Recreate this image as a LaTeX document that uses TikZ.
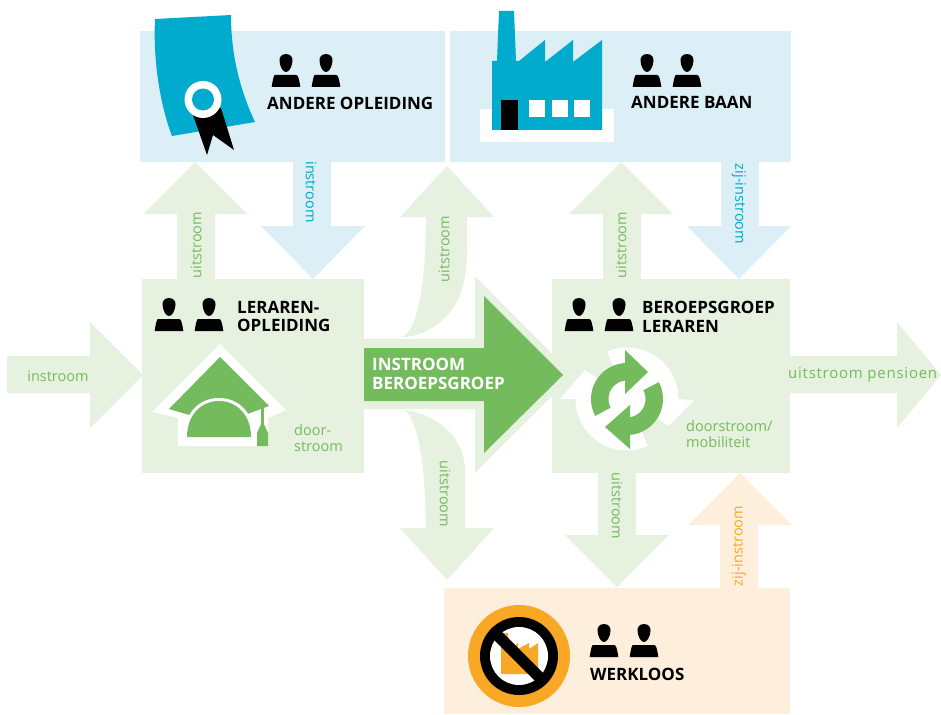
\documentclass[tikz,border=0pt]{standalone}
\usepackage{fontspec}
\setmainfont{Open Sans}
\definecolor{bluebg}{HTML}{DCEEF6}
\definecolor{greenbg}{HTML}{E6F1E0}
\definecolor{orangebg}{HTML}{FEEEDC}
\definecolor{cyanc}{HTML}{00ABCD}
\definecolor{greenc}{HTML}{74BB5D}
\definecolor{orangec}{HTML}{F8A824}
\tikzset{
  x=1pt,y=-1pt,
  boxtitle/.style={font=\bfseries\fontsize{17}{18.5}\selectfont,text=black,align=left,inner sep=0pt,anchor=north west},
  flow/.style={font=\fontsize{14.5}{16.5}\selectfont,text=greenc,inner sep=0pt,align=left},
  person/.pic={
    \fill[black] (0,-9) .. controls (5,-9) and (7,-5) .. (6.5,-2) .. controls (6,4) and (3,9) .. (0,9)
       .. controls (-3,9) and (-6,4) .. (-6.5,-2) .. controls (-7,-5) and (-5,-9) .. (0,-9) -- cycle;
    \fill[black] (-11,12) -- (10,12) .. controls (12,12) and (13,15) .. (14.3,24) -- (-14.3,24)
       .. controls (-13,15) and (-12,12) .. (-11,12) -- cycle;
  }
}
\begin{document}
\begin{tikzpicture}
\useasboundingbox (0,0) rectangle (941,714);
% panels
\fill[bluebg] (140,31) rectangle (445,162);
\fill[bluebg] (450,31) rectangle (791,162);
\fill[greenbg] (142,279) rectangle (364,473);
\fill[greenbg] (552,279) rectangle (790,473);
\fill[orangebg] (444,588) rectangle (790,714);
% straight flow arrows
\fill[greenbg] (7,356) -- (90,356) -- (90,322) -- (143,375) -- (90,428) -- (90,393) -- (7,393) -- cycle;
\fill[greenbg] (790,356) -- (897,356) -- (897,322) -- (941,375) -- (897,428) -- (897,393) -- (790,393) -- cycle;
\fill[greenbg] (177,279) -- (177,214) -- (143,214) -- (195,162) -- (247,214) -- (215,214) -- (215,279) -- cycle;
\fill[greenbg] (603,279) -- (603,214) -- (569,214) -- (621,162) -- (673,214) -- (641,214) -- (641,279) -- cycle;
\fill[bluebg] (293,162) -- (293,226) -- (261,226) -- (313,279) -- (365,226) -- (331,226) -- (331,162) -- cycle;
\fill[bluebg] (721,162) -- (721,226) -- (687,226) -- (739,279) -- (791,226) -- (759,226) -- (759,162) -- cycle;
\fill[greenbg] (598,473) -- (598,535) -- (565,535) -- (617,587) -- (669,535) -- (636,535) -- (636,473) -- cycle;
\fill[orangebg] (720,588) -- (720,525) -- (688,525) -- (740,473) -- (792,525) -- (758,525) -- (758,588) -- cycle;
% curved arrows
\fill[greenbg] (402,337) .. controls (420,330) and (426,270) .. (426,217) -- (400,217) -- (447,166) -- (494,217) -- (467,217) -- (467,250) .. controls (467,275) and (463,287) .. (460,295) .. controls (450,320) and (425,337) .. (402,337) -- cycle;
\fill[greenbg] (405,410) .. controls (420,425) and (425,470) .. (426,528) -- (400,528) -- (447,580) -- (494,528) -- (465,528) -- (465,470) .. controls (465,440) and (440,415) .. (405,410) -- cycle;
% main arrow
\fill[greenbg] (364,339) -- (475,339) -- (475,276) -- (573,375) -- (475,473) -- (475,409) -- (364,409) -- cycle;
\fill[greenc] (364,348) -- (484,348) -- (484,296) -- (563,375) -- (484,453) -- (484,401) -- (364,401) -- cycle;
% certificate
\fill[cyanc] (155,19) -- (231,15) .. controls (231,55) and (240,90) .. (255,122) -- (172,136) .. controls (160,105) and (153,60) .. (155,19) -- cycle;
\fill[black] (192,112) -- (207,155) -- (213,135) -- (234,150) -- (221,108) -- cycle;
\fill[white] (203,99.5) circle (18.5);
\fill[cyanc] (203,99.5) circle (11);
% factory
\fill[white] (480,109) rectangle (614,142);
\fill[cyanc] (492,130) -- (492,61) -- (497,61) -- (499,11) -- (514,11) -- (516,61) -- (519,61) -- (545,40) -- (545,62) -- (573,40) -- (573,62) -- (602,40) -- (602,130) -- cycle;
\fill[black] (501,100) rectangle (518,130);
\fill[white] (529,100) rectangle (545,117);
\fill[white] (552,100) rectangle (568,117);
\fill[white] (574,100) rectangle (590,117);
% mortarboard
\fill[white] (152,412) -- (220,344) -- (286,410) -- (268,418) -- (268,446) -- (178,446) -- (178,418) -- cycle;
\fill[greenc] (169,409) -- (220,357) -- (269,406) -- (220,424) -- cycle;
\fill[white] (184,437) .. controls (184,412) and (200,398) .. (219,398) .. controls (238,398) and (254,412) .. (254,437) -- cycle;
\fill[greenc] (187,437) .. controls (187,414) and (202,401) .. (219,401) .. controls (236,401) and (251,414) .. (251,437) -- cycle;
\fill[greenc] (260.5,408) rectangle (263.5,428);
\fill[greenc] (257,446) -- (257,433) -- (260.5,425) -- (264.5,425) -- (268,433) -- (268,446) -- cycle;
% recycle symbol
\fill[white] plot[domain=113:0,samples=40] ({627+51.5*cos(\x)},{399-51.5*sin(\x)}) -- (694,400) -- (669,426) -- (627,399) -- cycle;
\fill[white] plot[domain=-66:-180,samples=40] ({627+51.5*cos(\x)},{399-51.5*sin(\x)}) -- (560,399) -- (585,370) -- (627,399) -- cycle;
\fill[white] (627,399) circle (36);
\fill[greenc] plot[domain=208:90,samples=30] ({627+36*cos(\x)},{399-36*sin(\x)}) -- (625,363) -- (625,350) -- (648,372) -- (625,394) -- (625,381) -- plot[domain=90:208,samples=30] ({627+18.5*cos(\x)},{399-18.5*sin(\x)}) -- cycle;
\fill[greenc] plot[domain=28:-90,samples=30] ({627+36*cos(\x)},{399-36*sin(\x)}) -- (630,435) -- (630,449) -- (605,427) -- (630,405) -- (630,417) -- plot[domain=-90:28,samples=30] ({627+18.5*cos(\x)},{399-18.5*sin(\x)}) -- cycle;
% no-factory sign
\fill[orangec] (519,656) circle (51);
\fill[black] (519,656) circle (39);
\fill[white] (519,656) circle (29);
\fill[orangec] (501,674) -- (501,633) -- (508,633) -- (509,650) -- (518,643) -- (518,649) -- (529,643) -- (529,649) -- (538,643) -- (538,674) -- cycle;
\fill[black] (497,627) -- (489,635) -- (536,682) -- (544,674) -- cycle;
% people
\foreach \px/\py in {286/63,326/63,647/63,687/63,169/307,209/307,579/307,619/307,604/633,644/633}
  \pic at (\px,\py) {person};
% titles
\node[boxtitle] (t1) at (267,96.5) {ANDERE OPLEIDING};
\node[boxtitle] (t2) at (631,96.5) {ANDERE BAAN};
\node[boxtitle] (t3) at (237,301) {LERAREN-\\OPLEIDING};
\node[boxtitle] (t4) at (642,301) {BEROEPSGROEP\\LERAREN};
\node[boxtitle] (t5) at (590,668) {WERKLOOS};
\node[boxtitle,text=white] (t6) at (372,358) {INSTROOM\\BEROEPSGROEP};
% flow labels
\node[flow] (f1) at (58,376) {instroom};
\node[flow,anchor=west,font=\fontsize{15}{17}\selectfont\addfontfeature{LetterSpace=5}] (f2) at (788,375) {uitstroom pensioen};
\node[flow,anchor=north west] (f3) at (294,424) {door-\\stroom};
\node[flow,anchor=north west] (f4) at (686,420) {doorstroom/\\mobiliteit};
\node[flow,rotate=-90,text=cyanc] (f5) at (311,192) {instroom};
\node[flow,rotate=-90,text=cyanc] (f6) at (739,204) {zij-instroom};
\node[flow,rotate=90] (f7) at (196,245) {uitstroom};
\node[flow,rotate=90] (f8) at (444,249) {uitstroom};
\node[flow,rotate=90] (f9) at (621,245) {uitstroom};
\node[flow,rotate=-90] (f10) at (445,494) {uitstroom};
\node[flow,rotate=-90] (f11) at (617,506) {uitstroom};
\node[flow,rotate=90,text=orangec] (f12) at (739,546) {zij-instroom};
\end{tikzpicture}
\end{document}
